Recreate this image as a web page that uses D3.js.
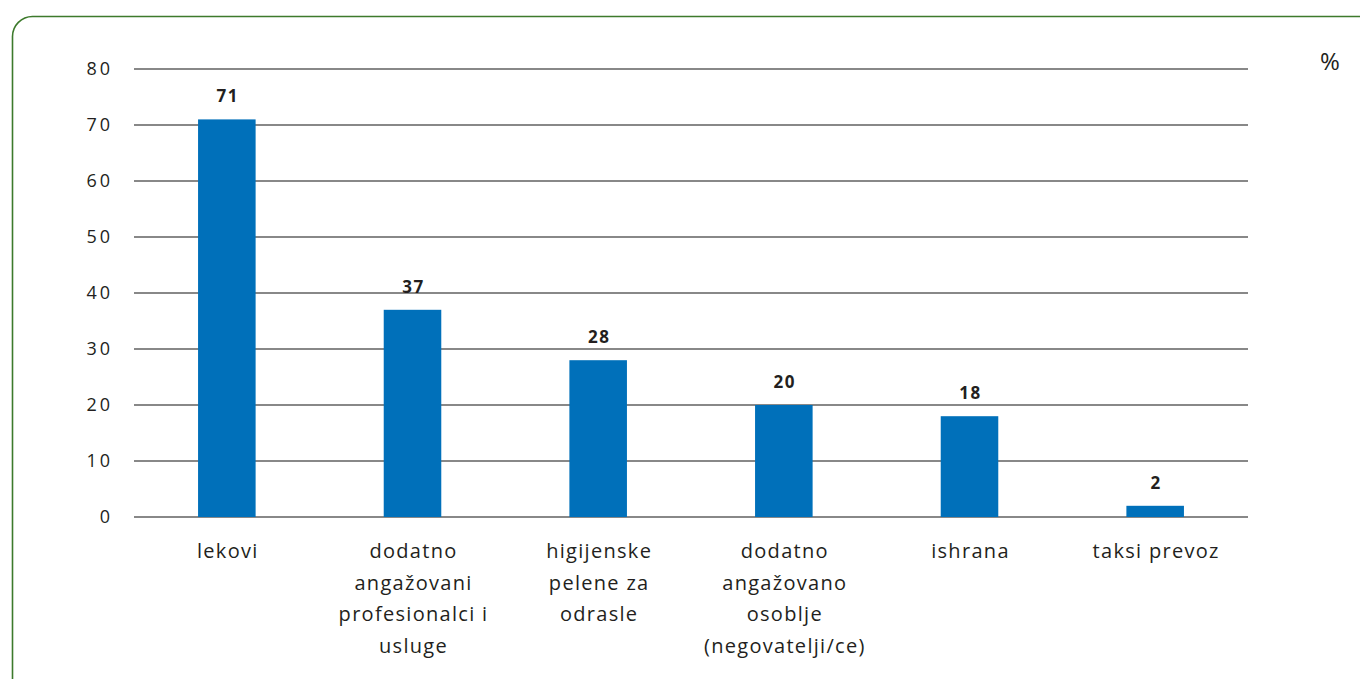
<!DOCTYPE html>
<html>
<head>
<meta charset="utf-8">
<script src="https://cdn.jsdelivr.net/npm/d3@7"></script>
<style>
  body { margin: 0; background: #fff; }
  text { font-family: "Open Sans", "Noto Sans", sans-serif; fill: #231f20; }
</style>
</head>
<body>
<div id="chart"></div>
<script>
const width = 1360;
const height = 679;

// data
const categories = [
  ["lekovi"],
  ["dodatno", "angažovani", "profesionalci i", "usluge"],
  ["higijenske", "pelene za", "odrasle"],
  ["dodatno", "angažovano", "osoblje", "(negovatelji/ce)"],
  ["ishrana"],
  ["taksi prevoz"]
];
const values = [71, 37, 28, 20, 18, 2];
const yTicks = [0, 10, 20, 30, 40, 50, 60, 70, 80];

const margin = {left: 134, right: 112, top: 69, bottom: 162};

var svg = d3.select("#chart").append("svg")
  .attr("width", width)
  .attr("height", height);

// frame
svg.append("rect")
  .attr("x", 12.5).attr("y", 16.5)
  .attr("width", 1400).attr("height", 720)
  .attr("rx", 20).attr("ry", 20)
  .style("fill", "none")
  .style("stroke", "#3d7a2c")
  .style("stroke-width", 1.6);

var x = d3.scaleBand()
  .domain(d3.range(values.length))
  .range([margin.left, width - margin.right])
  .paddingInner(0.69)
  .paddingOuter(0.345);

var y = d3.scaleLinear()
  .domain([0, 80])
  .range([height - margin.bottom, margin.top]);

// gridlines
svg.append("g").selectAll("line").data(yTicks).enter().append("line")
  .attr("x1", margin.left)
  .attr("x2", width - margin.right)
  .attr("y1", (d) => y(d))
  .attr("y2", (d) => y(d))
  .style("stroke", "#888")
  .style("stroke-width", 2);

// y tick labels
svg.append("g").selectAll("text").data(yTicks).enter().append("text")
  .attr("x", 113)
  .attr("y", (d) => y(d))
  .attr("dy", "0.35em")
  .attr("text-anchor", "end")
  .style("font-size", "18px")
  .style("letter-spacing", "3px")
  .text((d) => d);

// bars
svg.append("g").selectAll("rect").data(values).enter().append("rect")
  .attr("x", (d, i) => x(i))
  .attr("width", x.bandwidth())
  .attr("y", (d) => y(d))
  .attr("height", (d) => y(0) - y(d))
  .style("fill", "#0070ba");

// value labels
svg.append("g").selectAll("text").data(values).enter().append("text")
  .attr("x", (d, i) => x(i) + x.bandwidth() / 2 + 1)
  .attr("y", (d) => y(d) - 17)
  .attr("text-anchor", "middle")
  .style("font-size", "17px")
  .style("font-weight", "bold")
  .style("letter-spacing", "1.5px")
  .text((d) => d);

// category labels
var cat = svg.append("g").selectAll("text").data(categories).enter().append("text")
  .attr("text-anchor", "middle")
  .style("font-size", "20px")
  .style("letter-spacing", "1.3px");

cat.selectAll("tspan").data((d, i) => d.map((t) => ({t: t, i: i}))).enter().append("tspan")
  .attr("x", (d) => x(d.i) + x.bandwidth() / 2 + 1)
  .attr("y", (d, j) => 558 + j * 31.5)
  .text((d) => d.t);

// unit
svg.append("text")
  .attr("x", 1330)
  .attr("y", 70)
  .attr("text-anchor", "middle")
  .style("font-size", "24px")
  .text("%");
</script>
</body>
</html>
